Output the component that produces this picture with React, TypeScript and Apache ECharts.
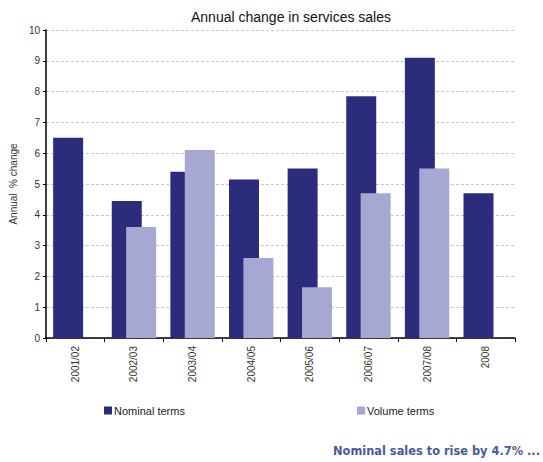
import React, { useEffect, useRef } from "react";
import * as echarts from "echarts";

const categories = ["2001/02", "2002/03", "2003/04", "2004/05", "2005/06", "2006/07", "2007/08", "2008"];
const nominal = [6.5, 4.45, 5.4, 5.15, 5.5, 7.85, 9.1, 4.7];
const volume: (number | null)[] = [null, 3.6, 6.1, 2.6, 1.65, 4.7, 5.5, null];
const yTicks = { min: 0, max: 10, interval: 1 };

export default function App() {
  const ref = useRef<HTMLDivElement>(null);
  useEffect(() => {
    document.body.style.margin = "0";
    const chart = echarts.init(ref.current!, null, { renderer: "svg" });
    const font = "'Liberation Sans', Arial, sans-serif";
    chart.setOption({
      animation: false,
      backgroundColor: "#ffffff",
      title: {
        text: "Annual change in services sales",
        left: 286,
        top: 5,
        textAlign: "center",
        textStyle: { fontFamily: font, fontSize: 14, fontWeight: "normal", color: "#111" },
      },
      grid: { left: 43, right: 28, top: 30, bottom: 124 },
      xAxis: {
        type: "category",
        data: categories,
        boundaryGap: true,
        axisLine: { lineStyle: { color: "#000", width: 1.5 } },
        axisTick: { show: true, inside: false, length: 4, alignWithLabel: false, lineStyle: { color: "#000" } },
        axisLabel: { rotate: 90, fontFamily: font, fontSize: 10, color: "#333", margin: 8 },
        splitLine: { show: false },
      },
      yAxis: {
        type: "value",
        min: yTicks.min,
        max: yTicks.max,
        interval: yTicks.interval,
        name: "Annual  % change",
        nameLocation: "middle",
        nameGap: 22,
        nameRotate: 90,
        nameTextStyle: { fontFamily: font, fontSize: 10, color: "#333" },
        axisLine: { show: true, lineStyle: { color: "#000", width: 1.5 } },
        axisTick: { show: true, length: 3, lineStyle: { color: "#000" } },
        axisLabel: { fontFamily: font, fontSize: 10, color: "#333", margin: 6 },
        splitLine: { show: true, lineStyle: { color: "#c8c8c8", type: [3, 2], width: 1 } },
      },
      legend: [
        {
          data: ["Nominal terms"],
          left: 99,
          top: 400,
          itemWidth: 8,
          itemHeight: 8,
          itemGap: 4,
          icon: "rect",
          textStyle: { fontFamily: font, fontSize: 11, color: "#222", padding: [0, 0, 0, -3] },
        },
        {
          data: ["Volume terms"],
          left: 352,
          top: 400,
          itemWidth: 8,
          itemHeight: 8,
          itemGap: 4,
          icon: "rect",
          textStyle: { fontFamily: font, fontSize: 11, color: "#222", padding: [0, 0, 0, -3] },
        },
      ],
      graphic: [
        {
          type: "text",
          right: 3,
          top: 445,
          style: {
            text: "Nominal sales to rise by 4.7% ...",
            font: "bold 11.4px 'DejaVu Sans', sans-serif",
            fill: "#4a5a98",
          },
        },
      ],
      series: [
        {
          name: "Nominal terms",
          type: "bar",
          data: nominal,
          barWidth: 30,
          barGap: "-52%",
          itemStyle: { color: "#2b2d7c" },
          z: 2,
        },
        {
          name: "Volume terms",
          type: "bar",
          data: volume,
          barWidth: 30,
          itemStyle: { color: "#a7a7d3" },
          z: 3,
        },
      ],
    });
    return () => chart.dispose();
  }, []);
  return <div ref={ref} style={{ width: 543, height: 462 }} />;
}
